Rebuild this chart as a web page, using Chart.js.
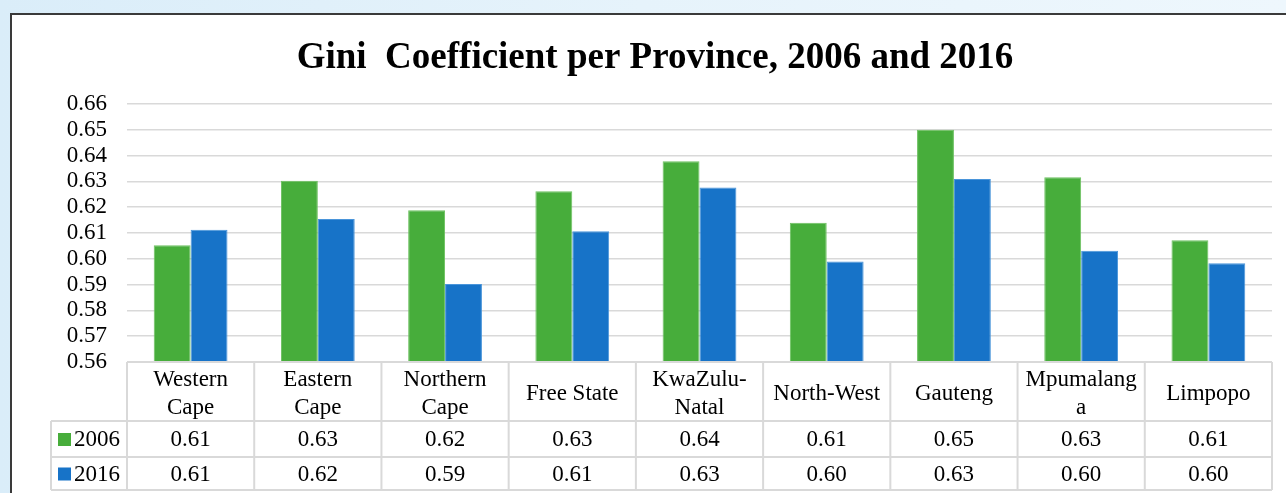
<!DOCTYPE html>
<html lang="en">
<head>
  <meta charset="UTF-8" />
  <title>Gini Coefficient per Province</title>
  <script src="https://cdn.jsdelivr.net/npm/chart.js"></script>
  <style>
    html, body {
      margin: 0;
      padding: 0;
      width: 1286px;
      height: 493px;
      overflow: hidden;
      background: linear-gradient(90deg, #daedf9 0%, #e6f3fb 50%, #eef7fd 100%);
    }
    .frame {
      position: absolute;
      left: 10px;
      top: 13px;
      width: 1400px;
      height: 600px;
      background: #fff;
      border-top: 2px solid #3a3a3a;
      border-left: 2px solid #3a3a3a;
    }
    #chart {
      position: absolute;
      left: 12px;
      top: 15px;
    }
  </style>
</head>
<body>
  <div class="frame"></div>
  <canvas id="chart" width="1286" height="478"></canvas>
  <script>
    const titleText = 'Gini  Coefficient per Province, 2006 and 2016';
    const provinces = [
      ['Western', 'Cape'], ['Eastern', 'Cape'], ['Northern', 'Cape'], 'Free State',
      ['KwaZulu-', 'Natal'], 'North-West', 'Gauteng', ['Mpumalang', 'a'], 'Limpopo'
    ];
    const gini2006 = [0.6053, 0.6303, 0.6188, 0.6262, 0.6378, 0.6140, 0.6500, 0.6316, 0.6072];
    const gini2016 = [0.6113, 0.6154, 0.5902, 0.6107, 0.6276, 0.5990, 0.6309, 0.6031, 0.5983];
    const seriesNames = ['2006', '2016'];
    const seriesColors = ['#47ad3b', '#1773c8'];
    const serif = '"Liberation Serif", "Times New Roman", serif';

    // title centred on the whole frame, not on the plot
    const frameTitle = {
      id: 'frameTitle',
      afterDraw(chart) {
        const ctx = chart.ctx;
        ctx.save();
        ctx.fillStyle = '#000';
        ctx.font = 'bold 37px ' + serif;
        ctx.textAlign = 'center';
        ctx.textBaseline = 'alphabetic';
        ctx.fillText(titleText, chart.width / 2, 53);
        ctx.restore();
      }
    };

    // data table under the plot, drawn from the x scale and the datasets
    const dataTable = {
      id: 'dataTable',
      afterDraw(chart) {
        const ctx = chart.ctx;
        const area = chart.chartArea;
        const x = chart.scales.x;
        const n = chart.data.labels.length;
        const cw = (area.right - area.left) / n;
        const top = area.bottom;
        const headBottom = top + 59;
        const rows = [headBottom, headBottom + 36, headBottom + 69];
        const legLeft = 39;

        ctx.save();
        ctx.strokeStyle = '#d9d9d9';
        ctx.lineWidth = 2;
        ctx.beginPath();
        ctx.moveTo(area.left, top); ctx.lineTo(area.right, top);
        rows.forEach(y => { ctx.moveTo(legLeft, y); ctx.lineTo(area.right, y); });
        ctx.moveTo(legLeft, headBottom); ctx.lineTo(legLeft, rows[2]);
        for (let i = 0; i <= n; i++) {
          const xx = area.left + i * cw;
          ctx.moveTo(xx, top); ctx.lineTo(xx, rows[2]);
        }
        ctx.stroke();

        ctx.fillStyle = '#000';
        ctx.font = '23px ' + serif;
        ctx.textAlign = 'center';
        ctx.textBaseline = 'middle';
        chart.data.labels.forEach((lab, i) => {
          const cx = x.getPixelForValue(i);
          const lines = Array.isArray(lab) ? lab : [lab];
          const mid = (top + headBottom) / 2 + 2;
          lines.forEach((t, j) => {
            ctx.fillText(t, cx, mid + (j - (lines.length - 1) / 2) * 28);
          });
        });

        chart.data.datasets.forEach((ds, r) => {
          const y0 = r === 0 ? headBottom : rows[r];
          const y1 = rows[r + 1];
          const cy = (y0 + y1) / 2 + 1;
          ctx.textAlign = 'center';
          ds.data.forEach((v, i) => {
            ctx.fillText(v.toFixed(2), x.getPixelForValue(i), cy);
          });
          ctx.fillStyle = ds.backgroundColor;
          ctx.fillRect(legLeft + 7, cy - 7, 13, 13);
          ctx.fillStyle = '#000';
          ctx.textAlign = 'left';
          ctx.fillText(ds.label, legLeft + 23, cy);
        });
        ctx.restore();
      }
    };

    new Chart(document.getElementById('chart'), {
      type: 'bar',
      data: {
        labels: provinces,
        datasets: [
          { label: seriesNames[0], data: gini2006, backgroundColor: seriesColors[0], borderColor: '#6cc160', borderWidth: 1 },
          { label: seriesNames[1], data: gini2016, backgroundColor: seriesColors[1], borderColor: '#4a95da', borderWidth: 1 }
        ]
      },
      options: {
        responsive: false,
        animation: false,
        categoryPercentage: 0.58,
        barPercentage: 1.0,
        layout: { padding: { top: 89, left: 0, right: 26, bottom: 131 } },
        plugins: {
          legend: { display: false },
          tooltip: { enabled: false },
          title: { display: false }
        },
        scales: {
          x: { display: false },
          y: {
            min: 0.56,
            max: 0.66,
            afterFit(scale) { scale.width = 115; },
            border: { display: false },
            grid: { color: '#d9d9d9', lineWidth: 1.5, drawTicks: false },
            ticks: {
              stepSize: 0.01,
              autoSkip: false,
              padding: 20,
              color: '#000',
              font: { family: serif, size: 23 },
              callback: v => v.toFixed(2)
            }
          }
        }
      },
      plugins: [frameTitle, dataTable]
    });
  </script>
</body>
</html>
